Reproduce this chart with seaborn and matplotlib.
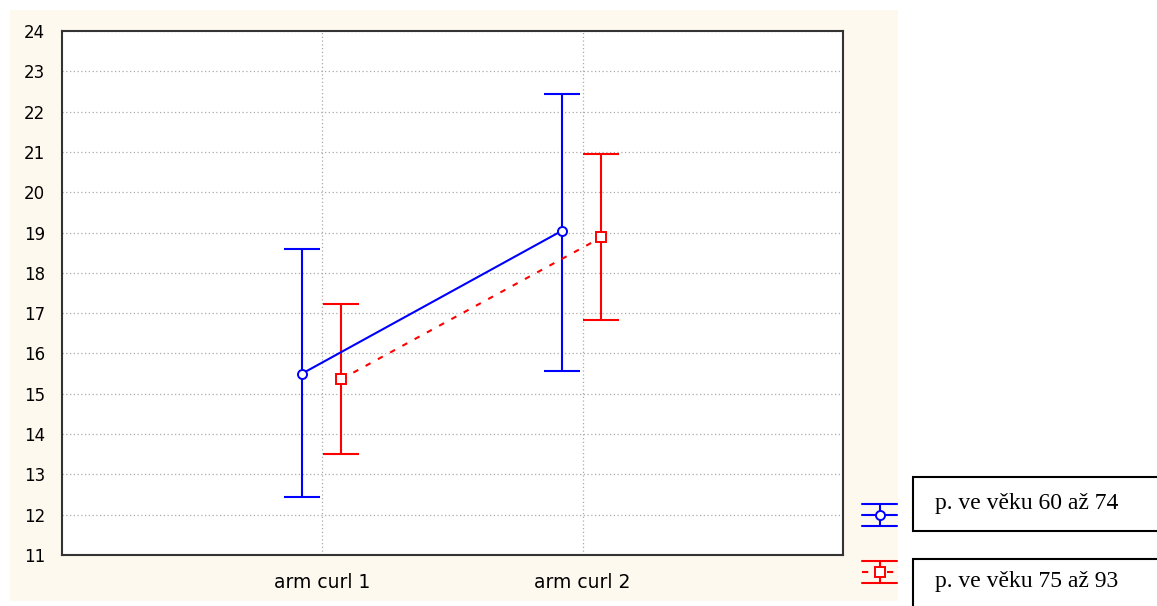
import matplotlib
matplotlib.use("Agg")
import matplotlib.pyplot as plt
import seaborn as sns
import pandas as pd
import numpy as np
from matplotlib.patches import Rectangle
from matplotlib.lines import Line2D

# ---- data ----
categories = ["arm curl 1", "arm curl 2"]
series_names = ["p. ve věku 60 až 74", "p. ve věku 75 až 93"]
means_young = [15.50, 19.05]
lower_young = [12.45, 15.57]
upper_young = [18.58, 22.43]
means_old = [15.36, 18.88]
lower_old = [13.50, 16.82]
upper_old = [17.22, 20.94]
y_ticks = list(range(11, 25))

W, H = 1157, 606
sns.set_style("white")
plt.rcParams['font.family'] = ['DejaVu Sans']
plt.rcParams['text.color'] = 'black'
plt.rcParams['xtick.color'] = 'black'
plt.rcParams['ytick.color'] = 'black'
fig = plt.figure(figsize=(W / 100, H / 100), dpi=100)

# cream background
fig.patches.append(Rectangle((10 / W, 1 - 601 / H), 888 / W, 591 / H,
                             transform=fig.transFigure, facecolor='#fef9ef',
                             edgecolor='none', zorder=-10))

ax = fig.add_axes([62 / W, 1 - 555 / H, (843 - 62) / W, (555 - 31) / H])
ax.set_facecolor('white')

colors = ['#0000ff', '#ff0000']
markers = ['o', 's']
line_styles = ['-', (0, (2.7, 4))]
offsets = [-0.078, 0.072]
series = [(means_young, lower_young, upper_young), (means_old, lower_old, upper_old)]

rows = []
for name, (m, lo, up), off in zip(series_names, series, offsets):
    for i, c in enumerate(categories):
        rows.append(dict(series=name, cat=c, x=i + off, mean=m[i], lo=lo[i], up=up[i]))
df = pd.DataFrame(rows)

LW = 1.5
for k, name in enumerate(series_names):
    d = df[df.series == name]
    ax.errorbar(d.x, d['mean'], yerr=[d['mean'] - d.lo, d.up - d['mean']],
                fmt='none', ecolor=colors[k], elinewidth=LW, capsize=13, capthick=LW, zorder=3)
    sns.lineplot(data=d, x='x', y='mean', ax=ax, color=colors[k], linestyle=line_styles[k],
                 linewidth=LW, marker=markers[k], markersize=6.5, markerfacecolor='white',
                 markeredgecolor=colors[k], markeredgewidth=1.4, legend=False, zorder=4)

ax.set_xlim(-1, 2)
ax.set_ylim(11, 24)
ax.set_xticks(range(len(categories)))
ax.set_xticklabels(categories)
ax.set_yticks(y_ticks)
ax.set_yticklabels([str(t) for t in y_ticks])
ax.set_xlabel('')
ax.set_ylabel('')
ax.grid(True, color='#aaaaaa', linestyle=(0, (1, 2)), linewidth=0.9)
ax.tick_params(axis='both', direction='in', length=3, color='#333333')
ax.tick_params(axis='y', pad=12, labelsize=12)
ax.tick_params(axis='x', pad=13, labelsize=13.5)
for s in ax.spines.values():
    s.set_color('#333333')
    s.set_linewidth(1.5)
    s.set_visible(True)

# ---- custom legend ----
def fx(px):
    return px / W
def fy(py):
    return 1 - py / H

for k, (cy, name) in enumerate(zip([515, 572], series_names)):
    c = colors[k]
    x0, x1, xc = 862, 897, 880
    fig.add_artist(Line2D([fx(x0), fx(x1)], [fy(cy - 11), fy(cy - 11)], color=c, lw=LW))
    fig.add_artist(Line2D([fx(x0), fx(x1)], [fy(cy + 11), fy(cy + 11)], color=c, lw=LW))
    fig.add_artist(Line2D([fx(xc), fx(xc)], [fy(cy - 11), fy(cy + 11)], color=c, lw=LW))
    fig.add_artist(Line2D([fx(x0), fx(x1)], [fy(cy), fy(cy)], color=c, lw=LW,
                          linestyle=(0, (3, 3)) if k else '-'))
    fig.add_artist(Line2D([fx(xc)], [fy(cy)], color=c, marker=markers[k], markersize=6.5,
                          markerfacecolor='white', markeredgecolor=c, markeredgewidth=1.4,
                          linestyle='none'))

boxes = [(477, 531), (559, 640)]
text_y = [503, 582]
for (t, b), ty, name in zip(boxes, text_y, series_names):
    fig.patches.append(Rectangle((fx(913), fy(b)), (1200 - 913) / W, (b - t) / H,
                                 transform=fig.transFigure, facecolor='white',
                                 edgecolor='black', linewidth=1.5, zorder=1))
    fig.text(fx(935), fy(ty), name, family='Liberation Serif', fontsize=17,
             va='center', ha='left', color='black')

fig.savefig('out.png', dpi=100)
